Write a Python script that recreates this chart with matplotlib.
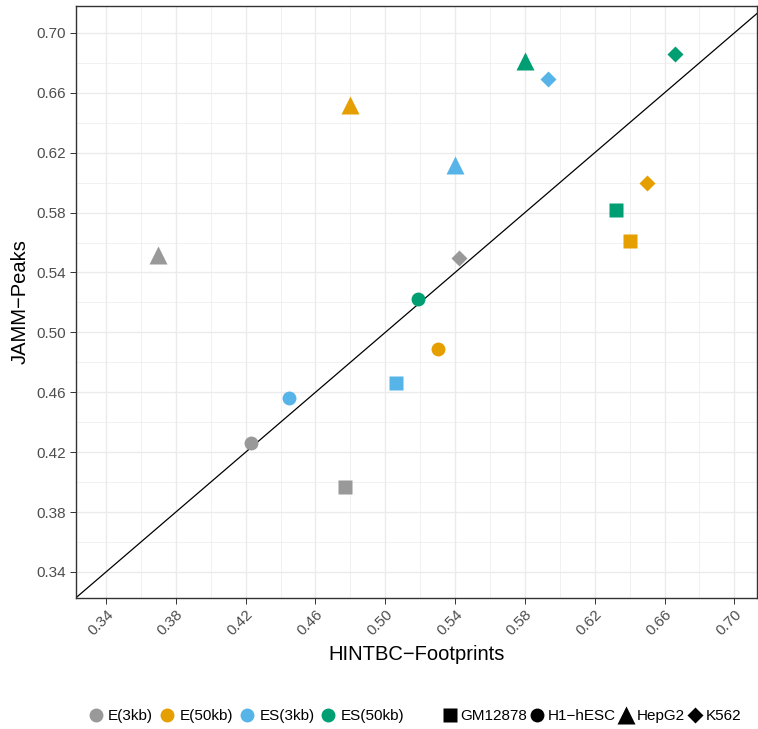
import matplotlib.pyplot as plt
from matplotlib.lines import Line2D
import numpy as np

plt.rcParams['font.family'] = ['Liberation Sans', 'DejaVu Sans']

# methods (colour) and cell lines (shape)
methods = ['E(3kb)', 'E(50kb)', 'ES(3kb)', 'ES(50kb)']
method_colors = ['#999999', '#E69F00', '#56B4E9', '#009E73']
cell_lines = ['GM12878', 'H1\u2212hESC', 'HepG2', 'K562']

# x = HINTBC-Footprints, y = JAMM-Peaks; rows = method, cols = cell line
hint_x = [
    [0.477, 0.423, 0.370, 0.542],
    [0.640, 0.530, 0.480, 0.650],
    [0.506, 0.445, 0.540, 0.593],
    [0.632, 0.519, 0.580, 0.666],
]
jamm_y = [
    [0.397, 0.426, 0.552, 0.550],
    [0.561, 0.489, 0.652, 0.600],
    [0.466, 0.456, 0.612, 0.669],
    [0.582, 0.522, 0.681, 0.686],
]

markers = ['s', 'o', '^', 'D']
marker_sizes = [10, 10, 13, 8.2]

fig = plt.figure(figsize=(7.58, 7.29), dpi=100)
ax = fig.add_axes([0.1003, 0.1801, 0.8984, 0.8117])

ax.set_xlim(0.3228, 0.713)
ax.set_ylim(0.3228, 0.718)

ticks = np.arange(0.34, 0.701, 0.04)
minor = ticks[:-1] + 0.02
ax.set_xticks(ticks)
ax.set_yticks(ticks)
ax.set_xticks(minor, minor=True)
ax.set_yticks(minor, minor=True)
ax.set_xticklabels(['%.2f' % t for t in ticks], rotation=45, ha='right', va='top',
                   rotation_mode='anchor')
ax.set_yticklabels(['%.2f' % t for t in ticks])
ax.tick_params(which='major', length=4.5, width=0.7, color='#333333',
               labelcolor='#4D4D4D', labelsize=11, pad=2.5)
ax.tick_params(which='minor', length=0)
ax.grid(which='major', color='#EBEBEB', lw=1.0)
ax.grid(which='minor', color='#EBEBEB', lw=0.5)
ax.set_axisbelow(True)
for s in ax.spines.values():
    s.set_color('#333333')
    s.set_linewidth(1.0)

ax.axline((0.4, 0.4), slope=1, color='black', lw=0.9, zorder=2)

for i, col in enumerate(method_colors):
    for j, m in enumerate(markers):
        ax.plot(hint_x[i][j], jamm_y[i][j], marker=m, ms=marker_sizes[j],
                color=col, mec='none', ls='none', zorder=3)

ax.set_xlabel('HINTBC\u2212Footprints', fontsize=14.5, labelpad=5)
ax.set_ylabel('JAMM\u2212Peaks', fontsize=14.5, labelpad=5)

h1 = [Line2D([], [], marker='o', ms=10, color=c, mec='none', ls='none')
      for c in method_colors]
fig.legend(h1, methods, loc='center left', bbox_to_anchor=(0.1166, 0.0178),
           ncol=4, frameon=False, fontsize=11, handletextpad=0.3,
           columnspacing=0.42, handlelength=1.0, borderaxespad=0, borderpad=0)
h2 = [Line2D([], [], marker=m, ms=s, color='black', mec='none', ls='none')
      for m, s in zip(markers, marker_sizes)]
fig.legend(h2, cell_lines, loc='center left', bbox_to_anchor=(0.5833, 0.0178),
           ncol=4, frameon=False, fontsize=11, handletextpad=0.2,
           columnspacing=0.15, handlelength=1.0, borderaxespad=0, borderpad=0)

fig.savefig('out.png', dpi=100)
